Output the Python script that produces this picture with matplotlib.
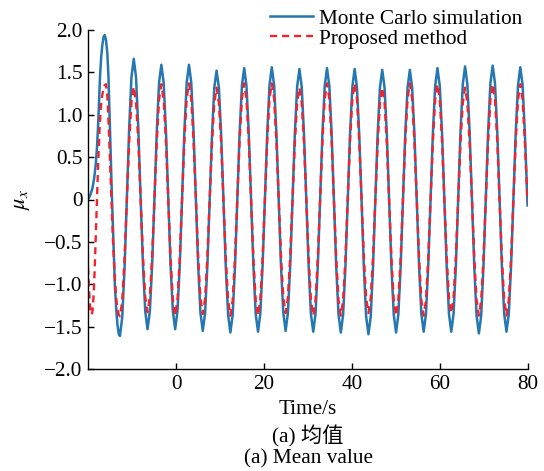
import matplotlib
matplotlib.use("Agg")
import matplotlib.pyplot as plt

# Zeitachse (s) und Mittelwerte
# Anfangsbereich (Einschwingen)
t_mc_start = [-20.0, -19.5, -19.0, -18.6, -18.25, -17.95, -17.7, -17.45, -17.25, -17.0,
              -16.75, -16.45, -16.2, -15.9, -15.6, -15.35, -15.15, -14.85, -14.55, -14.2,
              -13.9, -13.6, -13.3, -13.0]
mu_mc_start = [0.00, 0.05, 0.13, 0.25, 0.41, 0.62, 0.88, 1.20, 1.47, 1.68,
               1.82, 1.92, 1.94, 1.88, 1.72, 1.45, 1.08, 0.55, 0.01, -0.55,
               -1.00, -1.28, -1.48, -1.59]

t_pm_start = [-20.0, -19.75, -19.5, -19.25, -19.0, -18.75, -18.5, -18.25, -18.0, -17.7,
              -17.4, -17.1, -16.8, -16.5, -16.2, -15.9, -15.6, -15.3, -15.0, -14.7,
              -14.35, -13.95, -13.6, -13.3, -13.0]
mu_pm_start = [-0.80, -1.08, -1.28, -1.36, -1.33, -1.15, -0.85, -0.45, -0.05, 0.41,
               0.80, 1.08, 1.22, 1.30, 1.35, 1.36, 1.22, 0.88, 0.45, 0.01,
               -0.45, -0.89, -1.16, -1.30, -1.36]

# eingeschwungener Bereich (gemeinsame Zeitpunkte)
t_steady = [
    -12.74, -12.22, -11.69, -11.17, -10.65, -10.13, -9.60, -9.08, -8.56, -8.03, -7.51, -6.99,
    -6.47, -5.94, -5.42, -4.90, -4.37, -3.85, -3.33, -2.81, -2.28, -1.76, -1.24, -0.71,
    -0.19, 0.33, 0.86, 1.38, 1.90, 2.43, 2.95, 3.47, 3.99, 4.52, 5.04, 5.56,
    6.09, 6.61, 7.13, 7.65, 8.18, 8.70, 9.22, 9.75, 10.27, 10.79, 11.31, 11.84,
    12.36, 12.88, 13.41, 13.93, 14.45, 14.98, 15.50, 16.02, 16.54, 17.07, 17.59, 18.11,
    18.64, 19.16, 19.68, 20.20, 20.73, 21.25, 21.77, 22.30, 22.82, 23.34, 23.86, 24.39,
    24.91, 25.43, 25.96, 26.48, 27.00, 27.53, 28.05, 28.57, 29.09, 29.62, 30.14, 30.66,
    31.19, 31.71, 32.23, 32.75, 33.28, 33.80, 34.32, 34.85, 35.37, 35.89, 36.41, 36.94,
    37.46, 37.98, 38.51, 39.03, 39.55, 40.08, 40.60, 41.12, 41.64, 42.17, 42.69, 43.21,
    43.74, 44.26, 44.78, 45.30, 45.83, 46.35, 46.87, 47.40, 47.92, 48.44, 48.96, 49.49,
    50.01, 50.53, 51.06, 51.58, 52.10, 52.63, 53.15, 53.67, 54.19, 54.72, 55.24, 55.76,
    56.29, 56.81, 57.33, 57.85, 58.38, 58.90, 59.42, 59.95, 60.47, 60.99, 61.51, 62.04,
    62.56, 63.08, 63.61, 64.13, 64.65, 65.18, 65.70, 66.22, 66.74, 67.27, 67.79, 68.31,
    68.84, 69.36, 69.88, 70.40, 70.93, 71.45, 71.97, 72.50, 73.02, 73.54, 74.06, 74.59,
    75.11, 75.63, 76.16, 76.68, 77.20, 77.73, 78.25, 78.77, 79.29, 79.90]

mu_mc_steady = [
    -1.61, -1.39, -0.81, 0.00, 0.83, 1.44, 1.66, 1.44, 0.83, 0.00, -0.77, -1.32,
    -1.53, -1.32, -0.77, 0.00, 0.80, 1.38, 1.59, 1.38, 0.80, 0.00, -0.77, -1.32,
    -1.53, -1.32, -0.77, 0.00, 0.80, 1.38, 1.59, 1.38, 0.80, 0.00, -0.78, -1.34,
    -1.55, -1.34, -0.78, 0.00, 0.76, 1.32, 1.52, 1.32, 0.76, 0.00, -0.79, -1.36,
    -1.57, -1.36, -0.79, 0.00, 0.78, 1.34, 1.55, 1.34, 0.78, 0.00, -0.78, -1.35,
    -1.56, -1.35, -0.78, 0.00, 0.78, 1.35, 1.56, 1.35, 0.78, 0.00, -0.78, -1.34,
    -1.55, -1.34, -0.78, 0.00, 0.77, 1.33, 1.54, 1.33, 0.77, 0.00, -0.78, -1.35,
    -1.56, -1.35, -0.78, 0.00, 0.78, 1.34, 1.55, 1.34, 0.78, 0.00, -0.79, -1.36,
    -1.57, -1.36, -0.79, 0.00, 0.77, 1.33, 1.54, 1.33, 0.77, 0.00, -0.80, -1.38,
    -1.59, -1.38, -0.80, 0.00, 0.77, 1.32, 1.53, 1.32, 0.77, 0.00, -0.79, -1.36,
    -1.57, -1.36, -0.79, 0.00, 0.77, 1.32, 1.53, 1.32, 0.77, 0.00, -0.78, -1.35,
    -1.56, -1.35, -0.78, 0.00, 0.78, 1.34, 1.55, 1.34, 0.78, 0.00, -0.78, -1.35,
    -1.56, -1.35, -0.78, 0.00, 0.79, 1.36, 1.57, 1.36, 0.79, 0.00, -0.79, -1.37,
    -1.58, -1.37, -0.79, 0.00, 0.79, 1.37, 1.58, 1.37, 0.79, 0.00, -0.78, -1.35,
    -1.56, -1.35, -0.78, 0.00, 0.78, 1.35, 1.56, 1.35, 0.78, -0.07]

mu_pm_steady = [
    -1.38, -1.20, -0.69, 0.00, 0.67, 1.15, 1.33, 1.15, 0.67, 0.00, -0.67, -1.15,
    -1.33, -1.15, -0.67, 0.00, 0.68, 1.18, 1.36, 1.18, 0.68, 0.00, -0.69, -1.19,
    -1.37, -1.19, -0.69, 0.00, 0.69, 1.19, 1.37, 1.19, 0.69, 0.00, -0.68, -1.17,
    -1.35, -1.17, -0.68, 0.00, 0.66, 1.14, 1.32, 1.14, 0.66, 0.00, -0.69, -1.19,
    -1.37, -1.19, -0.69, 0.00, 0.69, 1.19, 1.37, 1.19, 0.69, 0.00, -0.69, -1.19,
    -1.37, -1.19, -0.69, 0.00, 0.69, 1.19, 1.37, 1.19, 0.69, 0.00, -0.67, -1.16,
    -1.34, -1.16, -0.67, 0.00, 0.66, 1.14, 1.32, 1.14, 0.66, 0.00, -0.69, -1.19,
    -1.37, -1.19, -0.69, 0.00, 0.69, 1.19, 1.37, 1.19, 0.69, 0.00, -0.69, -1.19,
    -1.37, -1.19, -0.69, 0.00, 0.69, 1.19, 1.37, 1.19, 0.69, 0.00, -0.67, -1.16,
    -1.34, -1.16, -0.67, 0.00, 0.66, 1.14, 1.32, 1.14, 0.66, 0.00, -0.69, -1.19,
    -1.37, -1.19, -0.69, 0.00, 0.69, 1.19, 1.37, 1.19, 0.69, 0.00, -0.69, -1.19,
    -1.37, -1.19, -0.69, 0.00, 0.68, 1.18, 1.36, 1.18, 0.68, 0.00, -0.67, -1.16,
    -1.34, -1.16, -0.67, 0.00, 0.66, 1.14, 1.32, 1.14, 0.66, 0.00, -0.69, -1.19,
    -1.37, -1.19, -0.69, 0.00, 0.68, 1.18, 1.36, 1.18, 0.68, 0.00, -0.69, -1.19,
    -1.37, -1.19, -0.69, 0.00, 0.68, 1.18, 1.36, 1.18, 0.68, -0.03]

x_ticks = [0, 20, 40, 60, 80]
y_ticks = [-2.0, -1.5, -1.0, -0.5, 0, 0.5, 1.0, 1.5, 2.0]
y_tick_labels = ["\u22122.0", "\u22121.5", "\u22121.0", "\u22120.5", "0", "0.5", "1.0", "1.5", "2.0"]

serif = ["Liberation Serif", "Noto Sans CJK SC"]
plt.rcParams["font.family"] = serif
plt.rcParams["mathtext.fontset"] = "stix"
fs = 15.3

fig = plt.figure(figsize=(5.44, 4.71), dpi=100)
ax = fig.add_axes([88 / 544, 1 - 369 / 471, 440 / 544, 339 / 471])

t_mc = t_mc_start + t_steady
mu_mc = mu_mc_start + mu_mc_steady
t_pm = t_pm_start + t_steady
mu_pm = mu_pm_start + mu_pm_steady

ax.plot(t_mc, mu_mc, color="#2477b0", lw=1.8, label="Monte Carlo simulation")
ax.plot(t_pm, mu_pm, color="#f5222d", lw=1.7, dashes=(3.0, 2.1), label="Proposed method")

ax.set_xlim(-20, 80)
ax.set_ylim(-2, 2)
ax.set_xticks(x_ticks)
ax.set_yticks(y_ticks)
ax.set_yticklabels(y_tick_labels)
ax.tick_params(direction="in", length=4.5, width=1.0, labelsize=fs, pad=4)
ax.spines["top"].set_visible(False)
ax.spines["right"].set_visible(False)
for s in ["left", "bottom"]:
    ax.spines[s].set_linewidth(1.0)

fig.text(22 / 544, 1 - 199 / 471, r"$\mu_x$", rotation=90, fontsize=16,
         ha="center", va="center")
fig.text(308 / 544, 1 - 409 / 471, "Time/s", fontsize=fs, ha="center", va="center")
fig.text(308 / 544, 1 - 436 / 471, "(a) 均值", fontsize=fs, ha="center", va="center",
         family=serif)
fig.text(308 / 544, 1 - 459 / 471, "(a) Mean value", fontsize=fs, ha="center", va="center")

fig.legend(loc="upper left", bbox_to_anchor=(270 / 544, 1 - 9 / 471), frameon=False,
           fontsize=fs, handlelength=2.0, handletextpad=0.3, labelspacing=0.0,
           borderpad=0, borderaxespad=0)

fig.savefig("out.png", dpi=100)
